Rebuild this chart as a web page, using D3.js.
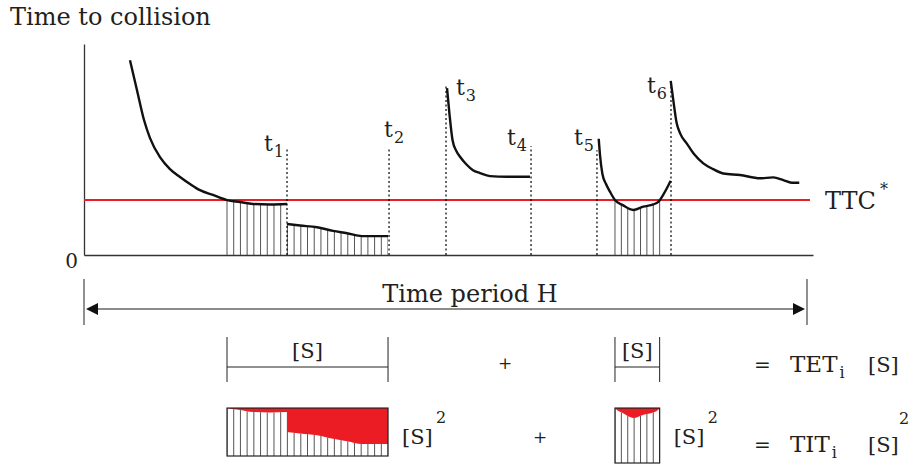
<!DOCTYPE html>
<html>
<head>
<meta charset="utf-8">
<script src="https://d3js.org/d3.v7.min.js"></script>
<style>
	body { margin: 0; background: #fff; }
	svg text { font-family: 'DejaVu Serif', serif; fill: #231f20; }
</style>
</head>
<body>
<svg id="chart" width="910" height="465"></svg>
<script>
	'use strict';

	// time period H and the threshold TTC*
	var H = 100,
		TTC_STAR = 2.5;

	// time to collision, [time, ttc] per continuous stretch
	var ttcSeg1 = [[6.36, 8.86], [7.33, 7.50], [8.30, 6.14], [9.13, 5.32], [10.51, 4.45],
		[11.89, 3.91], [13.28, 3.55], [14.66, 3.23], [16.04, 2.95], [17.84, 2.73],
		[19.78, 2.50], [21.58, 2.41], [23.37, 2.32], [25.73, 2.30], [28.08, 2.32]];
	var ttcSeg2 = [[28.08, 1.41], [29.88, 1.34], [32.23, 1.26], [34.44, 1.10],
		[36.38, 0.99], [38.45, 0.86], [42.05, 0.86]];
	var ttcSeg3 = [[50.21, 7.59], [50.55, 6.41], [50.97, 5.23], [51.50, 4.73], [52.01, 4.47],
		[52.84, 4.14], [53.80, 3.86], [54.77, 3.73], [56.15, 3.59], [58.51, 3.56],
		[60.30, 3.56], [61.69, 3.56]];
	var ttcSeg4 = [[71.19, 5.29], [71.37, 4.55], [71.69, 3.71], [72.20, 3.23], [72.75, 2.88],
		[73.44, 2.50], [74.51, 2.27], [75.97, 2.05], [77.36, 2.20], [78.74, 2.30],
		[79.43, 2.42], [80.22, 2.80], [81.15, 3.38]];
	var ttcSeg5 = [[81.15, 7.92], [81.47, 7.14], [81.98, 5.99], [82.50, 5.50], [83.36, 5.08],
		[84.37, 4.59], [85.66, 4.17], [87.00, 3.91], [88.42, 3.71], [90.73, 3.64],
		[93.50, 3.49], [95.34, 3.53], [96.72, 3.41], [97.88, 3.29], [98.93, 3.29]];

	// event instants t1..t6 and the ttc height of their markers
	var eventNames = ['1', '2', '3', '4', '5', '6'];
	var eventTimes = [28.08, 42.19, 50.07, 61.83, 70.95, 81.19];
	var eventTops = [4.91, 4.91, 7.73, 4.95, 4.77, 7.86];

	// stretches below TTC*
	var exposureStarts = [19.78, 73.44];
	var exposureEnds = [42.05, 79.62];
	var exposureSegs = [[ttcSeg1, ttcSeg2], [ttcSeg4]];

	var segments = [ttcSeg1, ttcSeg2, ttcSeg3, ttcSeg4, ttcSeg5];

	// layout only
	var labelOffsets = [[-23, 4], [-5, -10], [10, 10], [-24, -1], [-23, -5], [-24, 11]];
	var boxShift = 208,
		boxBottoms = [248, 255],
		hatchStep = 0.93,
		red = '#ec1c24';

	var svg = d3.select('#chart');

	var x = d3.scaleLinear().domain([0, H]).range([84, 807]);
	var y = d3.scaleLinear().domain([0, 9.6]).range([255, 44]);

	var line = d3.line()
		.x(function(d) { return x(d[0]); })
		.y(function(d) { return y(d[1]); })
		.curve(d3.curveMonotoneX);

	var areaUnder = d3.area()
		.x(function(d) { return x(d[0]); })
		.y0(y(0))
		.y1(function(d) { return y(d[1]); })
		.curve(d3.curveMonotoneX);

	var areaAbove = d3.area()
		.x(function(d) { return x(d[0]); })
		.y0(y(TTC_STAR))
		.y1(function(d) { return y(d[1]); })
		.curve(d3.curveMonotoneX);

	function hatchTimes(from, to) {
		var n = Math.round((to - from) / hatchStep);
		return d3.range(n + 1).map(function(i) {
			return from + i * (to - from) / n;
		});
	}

	var defs = svg.append('defs');

	defs.append('clipPath')
		.attr('id', 'under')
		.selectAll('path')
		.data(segments)
		.enter()
		.append('path')
		.attr('d', areaUnder);

	exposureStarts.forEach(function(s, i) {
		defs.append('clipPath')
			.attr('id', 'box' + i)
			.append('rect')
			.attr('x', x(s))
			.attr('y', y(TTC_STAR))
			.attr('width', x(exposureEnds[i]) - x(s))
			.attr('height', boxBottoms[i] - y(TTC_STAR));
	});

	// title
	svg.append('text')
		.attr('x', 10)
		.attr('y', 25)
		.attr('font-size', 24)
		.text('Time to collision');

	// hatching under the curve, below TTC*
	var hatch = svg.append('g')
		.attr('clip-path', 'url(#under)')
		.attr('stroke', '#555')
		.attr('stroke-width', 1);

	exposureStarts.forEach(function(s, i) {
		hatch.selectAll('line.h' + i)
			.data(hatchTimes(s, exposureEnds[i]))
			.enter()
			.append('line')
			.attr('class', 'h' + i)
			.attr('x1', function(d) { return x(d); })
			.attr('x2', function(d) { return x(d); })
			.attr('y1', y(0))
			.attr('y2', y(TTC_STAR));
	});

	// axes
	var yAxis = svg.append('g')
		.attr('transform', 'translate(' + x(0) + ',0)')
		.call(d3.axisLeft(y).tickValues([0]).tickSize(0).tickSizeOuter(0).tickPadding(6));

	var xAxis = svg.append('g')
		.attr('transform', 'translate(0,' + y(0) + ')')
		.call(d3.axisBottom(x.copy().range([x(0), x(H) + 6])).tickValues([]).tickSizeOuter(0));

	[yAxis, xAxis].forEach(function(a) {
		a.select('.domain').attr('stroke', '#333').attr('stroke-width', 1.3);
	});
	yAxis.selectAll('text')
		.attr('font-family', 'DejaVu Serif')
		.attr('font-size', 20)
		.attr('fill', '#231f20')
		.attr('dy', '0.6em');

	// threshold
	svg.append('line')
		.attr('x1', x(0))
		.attr('x2', x(H) + 3)
		.attr('y1', y(TTC_STAR))
		.attr('y2', y(TTC_STAR))
		.attr('stroke', red)
		.attr('stroke-width', 2);

	svg.append('text')
		.attr('x', 825)
		.attr('y', 209)
		.attr('font-size', 24)
		.text('TTC');
	svg.append('text')
		.attr('x', 880)
		.attr('y', 195)
		.attr('font-size', 16)
		.text('*');

	// event markers
	svg.selectAll('line.event')
		.data(eventTimes)
		.enter()
		.append('line')
		.attr('class', 'event')
		.attr('x1', function(d) { return x(d); })
		.attr('x2', function(d) { return x(d); })
		.attr('y1', y(0))
		.attr('y2', function(d, i) { return y(eventTops[i]); })
		.attr('stroke', '#000')
		.attr('stroke-width', 1.2)
		.attr('stroke-dasharray', '2,2.5');

	var eventLabels = svg.selectAll('text.event')
		.data(eventNames)
		.enter()
		.append('text')
		.attr('class', 'event')
		.attr('x', function(d, i) { return x(eventTimes[i]) + labelOffsets[i][0]; })
		.attr('y', function(d, i) { return y(eventTops[i]) + labelOffsets[i][1]; })
		.attr('font-size', 22)
		.text('t');
	eventLabels.append('tspan')
		.attr('dy', 6)
		.attr('dx', 1)
		.attr('font-size', 16)
		.text(function(d) { return d; });

	// curves
	svg.selectAll('path.ttc')
		.data(segments)
		.enter()
		.append('path')
		.attr('class', 'ttc')
		.attr('d', line)
		.attr('fill', 'none')
		.attr('stroke', '#111')
		.attr('stroke-width', 2.4);

	// time period H
	svg.append('line')
		.attr('x1', x(0) + 12)
		.attr('x2', x(H) - 12)
		.attr('y1', 309)
		.attr('y2', 309)
		.attr('stroke', '#666')
		.attr('stroke-width', 1.6);
	[0, H].forEach(function(t) {
		var px = x(t), dir = t === 0 ? 1 : -1;
		svg.append('line')
			.attr('x1', px).attr('x2', px)
			.attr('y1', 279).attr('y2', 325)
			.attr('stroke', '#222')
			.attr('stroke-width', 1);
		svg.append('polygon')
			.attr('points', [[px + dir * 2, 309], [px + dir * 14, 303], [px + dir * 14, 315]].join(' '))
			.attr('fill', '#111');
	});
	svg.append('text')
		.attr('x', 470)
		.attr('y', 302)
		.attr('text-anchor', 'middle')
		.attr('font-size', 24)
		.text('Time period H');

	// exposure time brackets and integrated boxes
	exposureStarts.forEach(function(s, i) {
		var x0 = x(s), x1 = x(exposureEnds[i]);

		var br = svg.append('g')
			.attr('stroke', '#222')
			.attr('stroke-width', 1);
		br.append('line').attr('x1', x0).attr('x2', x0).attr('y1', 337).attr('y2', 382);
		br.append('line').attr('x1', x1).attr('x2', x1).attr('y1', 337).attr('y2', 382);
		br.append('line').attr('x1', x0).attr('x2', x1).attr('y1', 367).attr('y2', 367);
		svg.append('text')
			.attr('x', (x0 + x1) / 2)
			.attr('y', 358)
			.attr('text-anchor', 'middle')
			.attr('font-size', 21)
			.text('[S]');

		var box = svg.append('g')
			.attr('transform', 'translate(0,' + boxShift + ')');
		var inner = box.append('g')
			.attr('clip-path', 'url(#box' + i + ')');
		inner.selectAll('path')
			.data(exposureSegs[i])
			.enter()
			.append('path')
			.attr('d', areaAbove)
			.attr('fill', red);
		inner.append('g')
			.attr('clip-path', 'url(#under)')
			.attr('stroke', '#555')
			.attr('stroke-width', 1)
			.selectAll('line')
			.data(hatchTimes(s, exposureEnds[i]))
			.enter()
			.append('line')
			.attr('x1', function(d) { return x(d); })
			.attr('x2', function(d) { return x(d); })
			.attr('y1', y(TTC_STAR))
			.attr('y2', y(0));
		box.append('rect')
			.attr('x', x0)
			.attr('y', y(TTC_STAR))
			.attr('width', x1 - x0)
			.attr('height', boxBottoms[i] - y(TTC_STAR))
			.attr('fill', 'none')
			.attr('stroke', '#222')
			.attr('stroke-width', 1.2);

		svg.append('text')
			.attr('x', x1 + 14)
			.attr('y', 444)
			.attr('font-size', 21)
			.text('[S]');
		svg.append('text')
			.attr('x', x1 + 48)
			.attr('y', 423)
			.attr('font-size', 16)
			.text('2');
	});

	// plus signs
	svg.append('text').attr('x', 505).attr('y', 369).attr('text-anchor', 'middle').attr('font-size', 17).text('+');
	svg.append('text').attr('x', 540).attr('y', 443).attr('text-anchor', 'middle').attr('font-size', 17).text('+');

	// results
	function result(baseline, name, sup) {
		svg.append('text').attr('x', 754).attr('y', baseline).attr('font-size', 20).text('=');
		var t = svg.append('text').attr('x', 790).attr('y', baseline).attr('font-size', 23).text(name);
		t.append('tspan').attr('dy', 6).attr('dx', 2).attr('font-size', 16).text('i');
		svg.append('text').attr('x', 868).attr('y', baseline).attr('font-size', 21).text('[S]');
		if (sup) {
			svg.append('text').attr('x', 899).attr('y', 424).attr('font-size', 16).text('2');
		}
	}
	result(372, 'TET', false);
	result(452, 'TIT', true);
</script>
</body>
</html>
